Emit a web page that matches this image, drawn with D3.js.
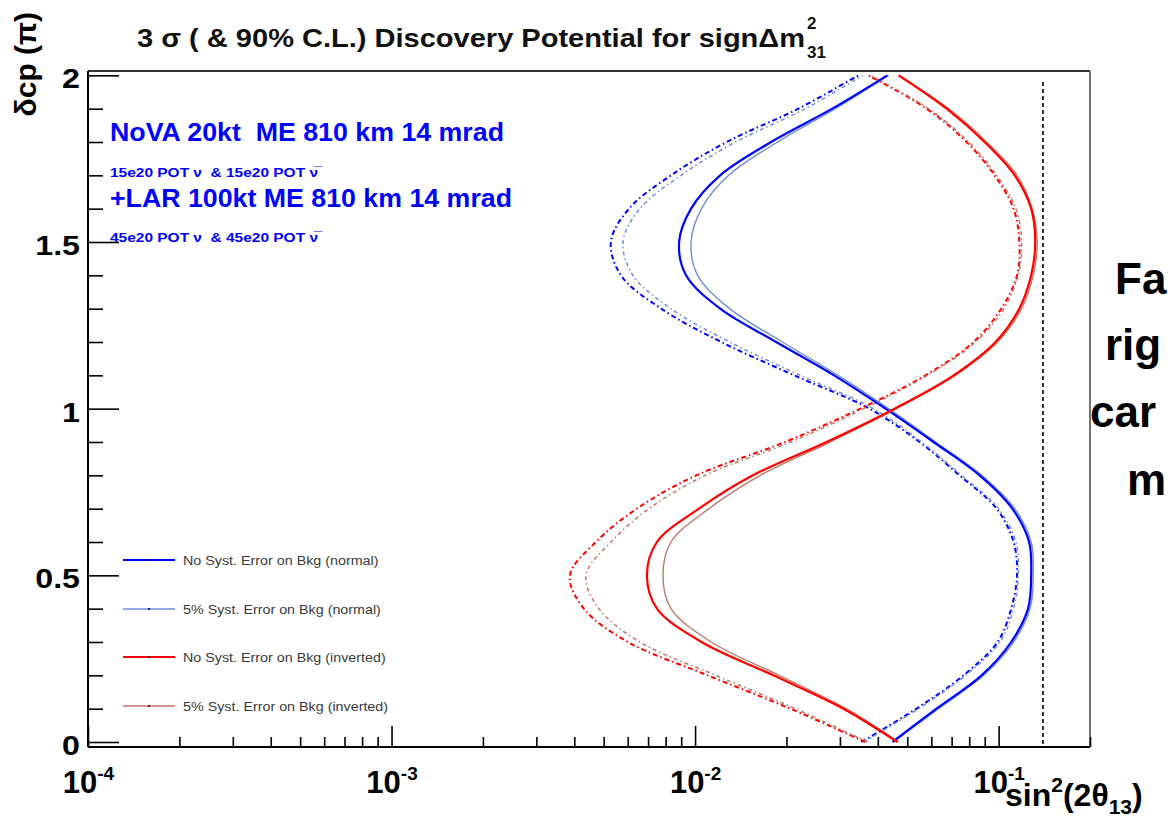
<!DOCTYPE html>
<html>
<head>
<meta charset="utf-8">
<script src="https://cdn.jsdelivr.net/npm/d3@7"></script>
<style>
  html, body { margin: 0; padding: 0; background: #fff; overflow: hidden; }
  svg { display: block; }
  text { font-family: "Liberation Sans", Arial, Helvetica, sans-serif; }
</style>
</head>
<body>
<svg id="chart" width="1174" height="821"></svg>
<script>
// ---------------- data ----------------
const deltaCP = [0.0, 0.1, 0.2, 0.3, 0.4, 0.5, 0.6, 0.7, 0.8, 0.9, 1.0,
                 1.1, 1.2, 1.3, 1.4, 1.5, 1.6, 1.7, 1.8, 1.9, 2.0];

// 3 sigma curves (solid)
const normalNoSyst3s   = [0.0447, 0.0624, 0.0879, 0.110, 0.125, 0.128, 0.126, 0.111, 0.0866, 0.0610, 0.0424,
                          0.0287, 0.0185, 0.0121, 0.00934, 0.00886, 0.00970, 0.0121, 0.0178, 0.0283, 0.0430];
const normal5pct3s     = [0.0450, 0.0634, 0.0892, 0.112, 0.127, 0.130, 0.128, 0.113, 0.0879, 0.0620, 0.0434,
                          0.0296, 0.0194, 0.0130, 0.0102, 0.00970, 0.0105, 0.0129, 0.0187, 0.0290, 0.0434];
const invertedNoSyst3s = [0.0464, 0.0308, 0.0181, 0.0105, 0.00749, 0.00694, 0.00749, 0.0103, 0.0155, 0.0271, 0.0454,
                          0.0711, 0.0977, 0.117, 0.128, 0.132, 0.128, 0.113, 0.0899, 0.0674, 0.0468];
const inverted5pct3s   = [0.0468, 0.0315, 0.0189, 0.0113, 0.00833, 0.00784, 0.00833, 0.0111, 0.0164, 0.0279, 0.0461,
                          0.0721, 0.0992, 0.119, 0.130, 0.134, 0.129, 0.115, 0.0913, 0.0684, 0.0471];
// 90% C.L. curves (dash-dot)
const normalNoSyst90   = [0.0353, 0.0536, 0.0766, 0.0992, 0.110, 0.115, 0.112, 0.0985, 0.0743, 0.0549, 0.0375,
                          0.0212, 0.0122, 0.00773, 0.00570, 0.00528, 0.00606, 0.00833, 0.0127, 0.0219, 0.0345];
const normal5pct90     = [0.0359, 0.0545, 0.0778, 0.101, 0.112, 0.116, 0.114, 0.100, 0.0755, 0.0557, 0.0387,
                          0.0222, 0.0130, 0.00833, 0.00624, 0.00579, 0.00658, 0.00899, 0.0136, 0.0231, 0.0356];
const invertedNoSyst90 = [0.0364, 0.0206, 0.0110, 0.00601, 0.00430, 0.00387, 0.00471, 0.00643, 0.0101, 0.0198, 0.0350,
                          0.0574, 0.0827, 0.102, 0.115, 0.117, 0.112, 0.0970, 0.0784, 0.0579, 0.0372];
const inverted5pct90   = [0.0370, 0.0214, 0.0117, 0.00658, 0.00482, 0.00437, 0.00528, 0.00705, 0.0108, 0.0207, 0.0359,
                          0.0583, 0.0840, 0.104, 0.116, 0.119, 0.114, 0.0985, 0.0796, 0.0588, 0.0378];

const choozLimit = [0.14];

const legendLabels = ["No Syst. Error on Bkg (normal)", "5% Syst. Error on Bkg (normal)",
                      "No Syst. Error on Bkg (inverted)", "5% Syst. Error on Bkg (inverted)"];
const xMajorExponents = [-4, -3, -2, -1];
const yMajorTicks = [0, 0.5, 1, 1.5, 2];
const yTickLabels = ["0", "0.5", "1", "1.5", "2"];
const sideFragments = ["Fa", "rig", "car", "m"];

// ---------------- layout ----------------
const svg = d3.select("#chart");
const L = 88, R = 1090, T = 71, B = 747;

const x = d3.scaleLog().domain([1e-4, 0.2]).range([L, R]);
const y = d3.scaleLinear().domain([-0.015, 2.013]).range([B, T]);

const colBlue = "#0000ff", colLightBlue = "#6f8ed6", colRed = "#ff0000", colBrown = "#c0766a";

// stretch text horizontally (reference font renders wider)
function stretch(sel, f) {
  sel.each(function() {
    const w = this.getComputedTextLength();
    d3.select(this).attr("textLength", w * f).attr("lengthAdjust", "spacingAndGlyphs");
  });
}

// clip
svg.append("defs").append("clipPath").attr("id", "plotclip")
  .append("rect").attr("x", L).attr("y", T).attr("width", R - L).attr("height", B - T);

// ---------------- curves ----------------
const line = d3.line()
  .x(d => x(d[1]))
  .y(d => y(d[0]))
  .curve(d3.curveCatmullRom.alpha(0.5));

const series = [
  { v: normalNoSyst90,   color: colBlue,      w: 2.0, dash: "5,3,1.5,3" },
  { v: normal5pct90,     color: colLightBlue, w: 1.5, dash: "4,3,1.5,3" },
  { v: invertedNoSyst90, color: colRed,       w: 2.0, dash: "5,3,1.5,3" },
  { v: inverted5pct90,   color: colBrown,     w: 1.5, dash: "4,3,1.5,3" },
  { v: normal5pct3s,     color: colLightBlue, w: 1.4, dash: null },
  { v: normalNoSyst3s,   color: colBlue,      w: 2.2, dash: null },
  { v: inverted5pct3s,   color: colBrown,     w: 1.4, dash: null },
  { v: invertedNoSyst3s, color: colRed,       w: 2.2, dash: null }
];

const gCurves = svg.append("g").attr("clip-path", "url(#plotclip)");
series.forEach(s => {
  gCurves.append("path")
    .datum(deltaCP.map((d, i) => [d, s.v[i]]))
    .attr("d", line)
    .attr("fill", "none")
    .attr("stroke", s.color)
    .attr("stroke-width", s.w)
    .attr("stroke-dasharray", s.dash);
});

// vertical dashed limit line
svg.append("g").selectAll("line").data(choozLimit).join("line")
  .attr("x1", d => x(d)).attr("x2", d => x(d))
  .attr("y1", y(1.98)).attr("y2", B - 1)
  .attr("stroke", "#000").attr("stroke-width", 1.6).attr("stroke-dasharray", "4,3");

// ---------------- frame & axes ----------------
svg.append("line").attr("x1", L).attr("x2", R).attr("y1", T).attr("y2", T)
  .attr("stroke", "#333").attr("stroke-width", 2);
svg.append("line").attr("x1", R).attr("x2", R).attr("y1", T).attr("y2", B)
  .attr("stroke", "#444").attr("stroke-width", 1.5);

// x axis
const xMinor = [];
xMajorExponents.forEach(e => { for (let k = 2; k <= 9; k++) { const v = k * Math.pow(10, e); if (v <= 0.2) xMinor.push(v); } });
const gxMinor = svg.append("g").attr("transform", `translate(0,${B})`)
  .call(d3.axisBottom(x).tickValues(xMinor).tickSize(-10).tickFormat(""));
const gxMajor = svg.append("g").attr("transform", `translate(0,${B})`)
  .call(d3.axisBottom(x).tickValues(xMajorExponents.map(e => Math.pow(10, e))).tickSize(-21)
        .tickFormat(() => ""));
[gxMinor, gxMajor].forEach(g => {
  g.select(".domain").attr("stroke", "#000").attr("stroke-width", 2).attr("d", `M${L},0H${R}`);
  g.selectAll(".tick line").attr("stroke", "#000").attr("stroke-width", 1.6);
});
gxMajor.selectAll(".tick text")
  .attr("font-size", 31).attr("font-weight", "bold").attr("fill", "#000")
  .attr("dy", 0).attr("y", 46)
  .each(function(d) {
    const t = d3.select(this);
    t.text(null);
    t.append("tspan").text("10");
    t.append("tspan").attr("dy", -13).attr("font-size", 19).text(String(Math.round(Math.log10(d))));
  });

// y axis
const yMinor = d3.range(0, 21).map(i => i / 10).filter(v => Math.abs(v * 2 - Math.round(v * 2)) > 1e-6);
const gyMinor = svg.append("g").attr("transform", `translate(${L},0)`)
  .call(d3.axisRight(y).tickValues(yMinor).tickSize(15).tickFormat(""));
const gyMajor = svg.append("g").attr("transform", `translate(${L},0)`)
  .call(d3.axisLeft(y).tickValues(yMajorTicks).tickSize(-31).tickPadding(8)
        .tickFormat((d, i) => yTickLabels[i]));
[gyMinor, gyMajor].forEach(g => {
  g.select(".domain").attr("stroke", "#000").attr("stroke-width", 2).attr("d", `M0,${T}V${B}`);
  g.selectAll(".tick line").attr("stroke", "#000").attr("stroke-width", 1.6);
});
gyMajor.selectAll(".tick text")
  .attr("font-size", 28).attr("font-weight", "bold").attr("fill", "#000").attr("dy", "0.45em")
  .call(stretch, 1.15);

// ---------------- titles ----------------
const titleX = 137;
const title = svg.append("text").attr("x", titleX).attr("y", 47)
  .attr("font-size", 25).attr("font-weight", "bold").attr("fill", "#111")
  .text("3 \u03c3 ( & 90% C.L.) Discovery Potential for sign\u0394m");
const titleW = 668;
title.attr("textLength", titleW).attr("lengthAdjust", "spacingAndGlyphs");
svg.append("text").attr("x", titleX + titleW + 2).attr("y", 29).attr("font-size", 17).attr("font-weight", "bold").attr("fill", "#111").text("2");
svg.append("text").attr("x", titleX + titleW + 2).attr("y", 58).attr("font-size", 17).attr("font-weight", "bold").attr("fill", "#111").text("31");

// y axis title
svg.append("text")
  .attr("transform", "translate(36,12) rotate(-90)")
  .attr("text-anchor", "end")
  .attr("font-size", 30).attr("font-weight", "bold").attr("fill", "#000")
  .text("\u03b4cp (\u03c0)");

// x axis title
const xt = svg.append("text").attr("x", 1005).attr("y", 806)
  .attr("font-size", 32).attr("font-weight", "bold").attr("fill", "#000");
xt.append("tspan").text("sin");
xt.append("tspan").attr("dy", -14).attr("font-size", 21).text("2");
xt.append("tspan").attr("dy", 14).text("(2\u03b8");
xt.append("tspan").attr("dy", 8).attr("font-size", 21).text("13");
xt.append("tspan").attr("dy", -8).text(")");

// ---------------- blue annotation ----------------
const blueTexts = [
  { t: "NoVA 20kt\u00a0\u00a0ME 810 km 14 mrad", y: 141, s: 25, w: 394 },
  { t: "15e20 POT \u03bd\u00a0 & 15e20 POT \u03bd\u0305", y: 177, s: 13, w: 208 },
  { t: "+LAR 100kt ME 810 km 14 mrad", y: 207, s: 25, w: 402 },
  { t: "45e20 POT \u03bd\u00a0 & 45e20 POT \u03bd\u0305", y: 242, s: 13, w: 208 }
];
svg.append("g").selectAll("text").data(blueTexts).join("text")
  .attr("x", 110).attr("y", d => d.y)
  .attr("font-size", d => d.s).attr("font-weight", "bold").attr("fill", colBlue)
  .attr("textLength", d => d.w).attr("lengthAdjust", "spacingAndGlyphs")
  .text(d => d.t);

// ---------------- legend ----------------
const legendColors = [colBlue, colLightBlue, colRed, colBrown];
const legendWidths = [2.2, 1.4, 2.2, 1.4];
const legendY = [560, 609, 657, 706];
const gLeg = svg.append("g");
legendLabels.forEach((lab, i) => {
  gLeg.append("line").attr("x1", 123).attr("x2", 175).attr("y1", legendY[i]).attr("y2", legendY[i])
    .attr("stroke", legendColors[i]).attr("stroke-width", legendWidths[i]);
  gLeg.append("circle").attr("cx", 149).attr("cy", legendY[i]).attr("r", 1).attr("fill", "#000");
  gLeg.append("text").attr("x", 183).attr("y", legendY[i] + 4.5)
    .attr("font-size", 13).attr("fill", "#3a3a3a").text(lab)
    .call(stretch, 1.1);
});

// ---------------- side text (slide text cut at right edge) ----------------
const sideX = [1115, 1105, 1090, 1127];
const sideY = [294, 360, 427, 495];
svg.append("g").selectAll("text").data(sideFragments).join("text")
  .attr("x", (d, i) => sideX[i]).attr("y", (d, i) => sideY[i])
  .attr("font-family", "'DejaVu Sans', sans-serif")
  .attr("font-size", 44).attr("font-weight", "bold").attr("fill", "#000")
  .text(d => d);
</script>
</body>
</html>
